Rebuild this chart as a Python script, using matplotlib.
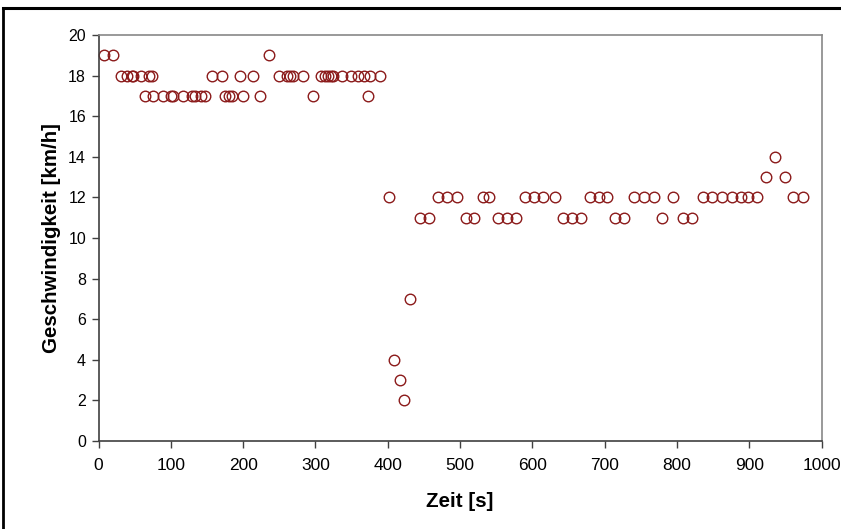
import matplotlib
matplotlib.use("Agg")
import matplotlib.pyplot as plt
from matplotlib.lines import Line2D

plt.rcParams['font.family'] = ['Liberation Sans', 'DejaVu Sans']

# Zeit [s] und Geschwindigkeit [km/h]
zeit = [7, 20, 31, 40, 46, 48, 59, 64, 70, 74, 76, 89, 100, 103, 117, 130, 134,
        142, 147, 157, 171, 175, 180, 185, 196, 200, 214, 224, 236, 250, 261,
        265, 269, 283, 296, 308, 313, 317, 321, 325, 337, 349, 359, 367, 373,
        376, 390, 402, 409, 417, 422, 431, 444, 457, 469, 482, 496, 508, 520,
        532, 540, 553, 565, 577, 590, 603, 615, 631, 643, 655, 667, 680, 692,
        703, 715, 727, 741, 755, 768, 780, 794, 809, 821, 836, 849, 863, 876,
        888, 898, 911, 923, 936, 949, 961, 974]
geschw = [19, 19, 18, 18, 18, 18, 18, 17, 18, 18, 17, 17, 17, 17, 17, 17, 17,
          17, 17, 18, 18, 17, 17, 17, 18, 17, 18, 17, 19, 18, 18,
          18, 18, 18, 17, 18, 18, 18, 18, 18, 18, 18, 18, 18, 17,
          18, 18, 12, 4, 3, 2, 7, 11, 11, 12, 12, 12, 11, 11,
          12, 12, 11, 11, 11, 12, 12, 12, 12, 11, 11, 11, 12, 12,
          12, 11, 11, 12, 12, 12, 11, 12, 11, 11, 12, 12, 12, 12,
          12, 12, 12, 13, 14, 13, 12, 12]

x_ticks = list(range(0, 1001, 100))
y_ticks = list(range(0, 21, 2))

fig = plt.figure(figsize=(8.41, 5.29), dpi=100)
ax = fig.add_axes([98.5 / 841, 1 - 441 / 529, (821.5 - 98.5) / 841, (441 - 35) / 529])

ax.plot(zeit, geschw, linestyle='none', marker='o', markersize=7.6,
        markerfacecolor='none', markeredgecolor='#8B1A1A', markeredgewidth=1.0,
        clip_on=False)

ax.set_xlim(0, 1000)
ax.set_ylim(0, 20)
ax.set_xticks(x_ticks)
ax.set_yticks(y_ticks)
ax.tick_params(axis='x', direction='out', length=5, width=1, pad=7,
               labelsize=12.5, color='#404040')
ax.tick_params(axis='y', direction='out', length=5, width=1, pad=4,
               labelsize=11.5, color='#404040')

for side in ('top', 'right'):
    ax.spines[side].set_color('#888888')
    ax.spines[side].set_linewidth(1.2)
for side in ('left', 'bottom'):
    ax.spines[side].set_color('#404040')
    ax.spines[side].set_linewidth(1.2)

ax.set_xlabel('Zeit [s]', fontsize=14.8, fontweight='bold', labelpad=14)
ax.set_ylabel('Geschwindigkeit [km/h]', fontsize=14.8, fontweight='bold', labelpad=5)

# Rahmen des Diagrammbereichs (oben und links sichtbar)
fig.add_artist(Line2D([0.003, 1.0], [1 - 7.5 / 529, 1 - 7.5 / 529],
                      transform=fig.transFigure, color='black', linewidth=2.2))
fig.add_artist(Line2D([0.003, 0.003], [0, 1 - 7.5 / 529],
                      transform=fig.transFigure, color='black', linewidth=2.0))

fig.savefig('out.png', dpi=100)
